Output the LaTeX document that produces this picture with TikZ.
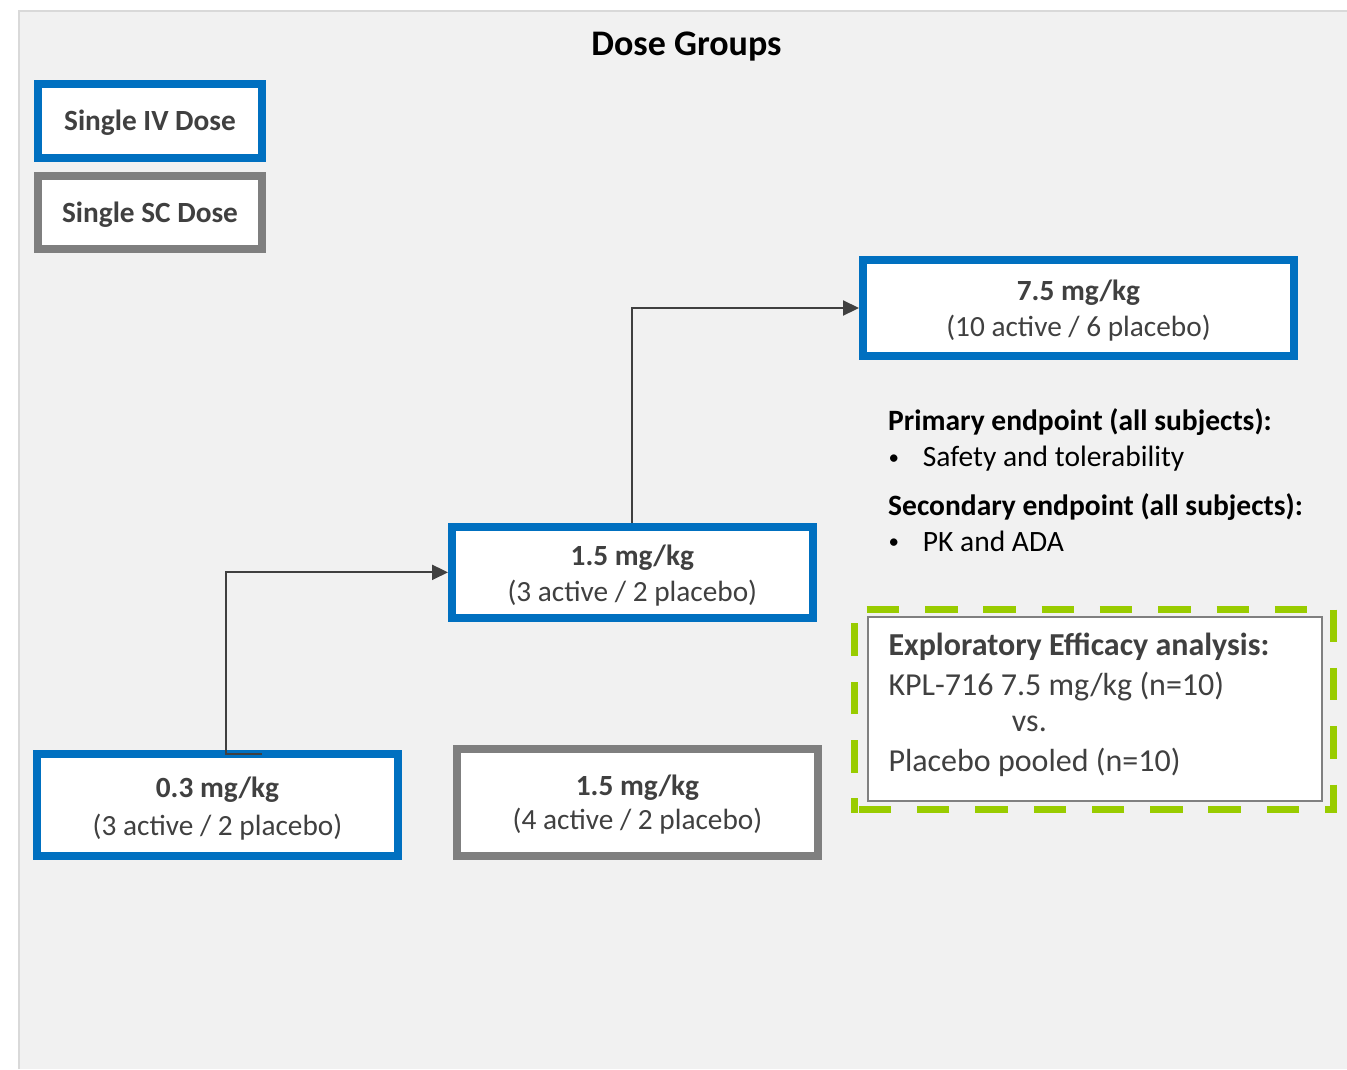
\documentclass[tikz,border=0pt]{standalone}
\usepackage{fontspec}
\setmainfont{Carlito}
\usetikzlibrary{arrows.meta}
\definecolor{ivblue}{HTML}{0070C0}
\definecolor{scgray}{HTML}{7F7F7F}
\definecolor{panelbg}{HTML}{F1F1F1}
\definecolor{paneledge}{HTML}{D9D9D9}
\definecolor{txtgray}{HTML}{404040}
\definecolor{arrowgray}{HTML}{404040}
\definecolor{dashgreen}{RGB}{153,204,0}
\definecolor{innergray}{HTML}{808080}
\newcommand{\fsz}[1]{\fontsize{#1}{#1}\selectfont}
\begin{document}
\begin{tikzpicture}[x=1pt,y=-1pt,
  ivbox/.style={draw=ivblue, line width=8pt, fill=white, inner sep=0pt},
  scbox/.style={draw=scgray, line width=8pt, fill=white, inner sep=0pt},
  boxtxt/.style={anchor=base, inner sep=0pt, text=txtgray, font=\fsz{29.3}},
  boxhead/.style={anchor=base, inner sep=0pt, text=txtgray, font=\fsz{29.3}\bfseries},
  ept/.style={anchor=base west, inner sep=0pt, text=black, font=\fsz{29.5}},
  bulletmark/.style={anchor=base west, inner sep=0pt, text=black, font=\fsz{21}},
  epthead/.style={anchor=base west, inner sep=0pt, text=black, font=\fsz{29.5}\bfseries},
  extxt/.style={anchor=base west, inner sep=0pt, text=txtgray, font=\fsz{32}},
  exhead/.style={anchor=base west, inner sep=0pt, text=txtgray, font=\fsz{32}\bfseries},
  conn/.style={draw=arrowgray, line width=2.2pt},
  arr/.style={conn, -{Triangle[length=16pt,width=15pt]}},
  greendash/.style={draw=dashgreen, line width=7pt, dash pattern=on 32.5pt off 25.8pt},
]
% canvas and panel
\fill[white] (0,0) rectangle (1347,1069);
\useasboundingbox (0,0) rectangle (1347,1069);
\fill[panelbg] (19,11) rectangle (1347,1069);
\draw[paneledge, line width=2.5pt] (19,1069) -- (19,11) -- (1347,11);

% title
\node[anchor=base, inner sep=0pt, font=\fsz{36}\bfseries] (title) at (686.5,55) {Dose Groups};

% legend
\node[ivbox, minimum width=224pt, minimum height=74pt] (legiv) at (150,121) {};
\node[boxhead] (legivt) at (150,130) {Single IV Dose};
\node[scbox, minimum width=224pt, minimum height=73pt] (legsc) at (150,212.5) {};
\node[boxhead] (legsct) at (150,222.7) {Single SC Dose};

% dose boxes
\node[ivbox, minimum width=431pt, minimum height=96pt] (b75) at (1078.5,308) {};
\node[boxhead] (b75a) at (1078.5,300) {7.5 mg/kg};
\node[boxtxt] (b75b) at (1078.5,336) {(10 active / 6 placebo)};

\node[ivbox, minimum width=360.7pt, minimum height=90.7pt] (b15iv) at (632.35,572.35) {};
\node[boxhead] (b15iva) at (632.35,565) {1.5 mg/kg};
\node[boxtxt] (b15ivb) at (632.35,601) {(3 active / 2 placebo)};

\node[ivbox, minimum width=360.4pt, minimum height=102pt] (b03) at (217.5,805) {};
\node[boxhead] (b03a) at (217.5,797.5) {0.3 mg/kg};
\node[boxtxt] (b03b) at (217.5,835) {(3 active / 2 placebo)};

\node[scbox, minimum width=360.4pt, minimum height=107pt] (b15sc) at (637.5,802.5) {};
\node[boxhead] (b15sca) at (637.5,795) {1.5 mg/kg};
\node[boxtxt] (b15scb) at (637.5,829.5) {(4 active / 2 placebo)};

% connectors
\coordinate (t0) at (261.7,754);
\coordinate (t1) at (225.7,754);
\draw[arr] (t0) -- (t1) |- (b15iv.west);
\draw[arr] (b15iv.north) |- (b75.west);

% endpoints
\node[epthead] (prim) at (888,430) {Primary endpoint (all subjects):};
\node[bulletmark] (bul1) at (888.5,464) {•};
\node[ept] (prim1) at (922.7,466.7) {Safety and tolerability};
\node[epthead] (sec) at (888,515.7) {Secondary endpoint (all subjects):};
\node[bulletmark] (bul2) at (888.5,548.3) {•};
\node[ept] (sec1) at (922.7,551) {PK and ADA};

% exploratory efficacy frame
\coordinate (dtl) at (854.3,609.5);
\coordinate (dtr) at (1333,609.5);
\coordinate (dbr) at (1333,809);
\coordinate (dbl) at (854.3,809);
\coordinate (dblx) at (854.3,812.5);
\draw[greendash, dash phase=45.9pt] (dtl) -- (dtr) -- (dbr) -- (dbl);
\draw[greendash, dash phase=18.3pt] (dblx) -- (dtl);
\node[draw=innergray, line width=2pt, fill=white, inner sep=0pt, minimum width=453.4pt, minimum height=184pt] (exbox) at (1095,709) {};
\node[exhead] (ex1) at (888.3,655) {Exploratory Efficacy analysis:};
\node[extxt] (ex2) at (888.3,695) {KPL-716 7.5 mg/kg (n=10)};
\node[extxt] (ex3) at (1011.7,731.7) {vs.};
\node[extxt] (ex4) at (888.3,771.7) {Placebo pooled (n=10)};
\end{tikzpicture}
\end{document}
